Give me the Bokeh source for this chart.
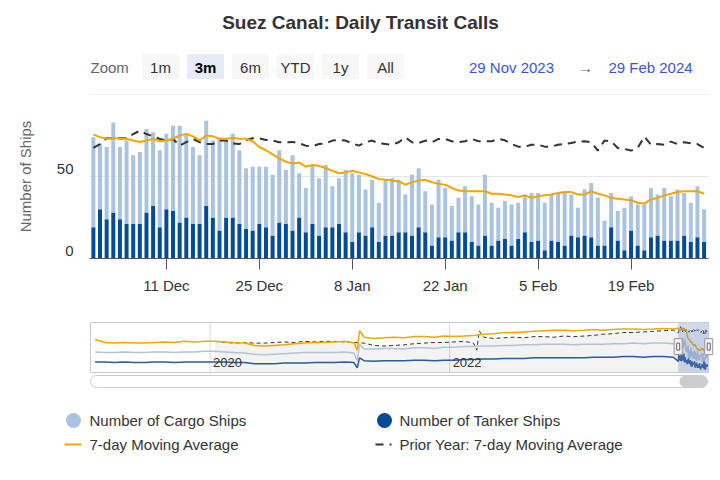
import math
import pandas as pd
from bokeh.plotting import figure
from bokeh.layouts import column
from bokeh.models import Range1d, FixedTicker, Label, ColumnDataSource
from bokeh.embed import file_html
from bokeh.resources import INLINE
from bokeh.core.properties import value

FONT = "Liberation Sans"
CARGO_C = "#a9c3e1"
TANKER_C = "#034b96"
MA_C = "#f0a800"
PRIOR_C = "#333333"

# ---------------- texts ----------------
title_text = "Suez Canal: Daily Transit Calls"
zoom_label = "Zoom"
zoom_buttons = ["1m", "3m", "6m", "YTD", "1y", "All"]
selected_button = "3m"
range_from = "29 Nov 2023"
range_to = "29 Feb 2024"
y_axis_title = "Number of Ships"
legend_labels = ["Number of Cargo Ships", "Number of Tanker Ships",
                 "7-day Moving Average", "Prior Year: 7-day Moving Average"]

# ---------------- main window data (daily) ----------------
dates = pd.date_range("2023-11-30", periods=93, freq="D")
cargo = [55, 40, 44, 55, 44, 51, 42, 44, 51, 45,
         47, 46, 52, 59, 51, 47, 42, 52, 47, 56,
         47, 51, 45, 37, 39, 35, 37, 37, 44, 33,
         46, 27, 27, 36, 35, 38, 25, 28, 38, 42,
         35, 28, 29, 24, 34, 35, 32, 23, 37, 36,
         25, 25, 35, 30, 21, 21, 28, 28, 25, 37,
         26, 20, 23, 25, 22, 23, 30, 29, 29, 28,
         30, 32, 25, 18, 28, 33, 29, 15, 21, 18,
         26, 21, 25, 28, 30, 25, 32, 27, 31, 26,
         24, 31, 20]
tanker = [19, 30, 24, 28, 24, 21, 21, 21, 28, 32,
          19, 30, 29, 22, 25, 21, 21, 32, 25, 17,
          25, 25, 21, 18, 17, 21, 19, 14, 22, 21,
          17, 25, 16, 21, 14, 19, 19, 21, 16, 10,
          16, 14, 19, 10, 14, 14, 16, 16, 14, 19,
          16, 8, 13, 13, 11, 16, 16, 10, 8, 14,
          8, 11, 12, 8, 12, 16, 10, 11, 5, 11,
          10, 8, 14, 13, 14, 13, 8, 8, 19, 11,
          5, 17, 8, 5, 13, 14, 11, 11, 11, 14,
          10, 13, 10]
ma7 = [75.5, 74, 73, 73.5, 73, 73, 72, 71, 72, 73,
       71.5, 72, 73, 75, 76, 74.5, 72, 75, 74.5, 73,
       73, 73.5, 73, 73, 71.5, 68, 66, 63.5, 61, 59,
       58, 58.5, 56, 57, 56.5, 55, 53.5, 52, 52.5, 53.5,
       52.5, 51.5, 50, 48.5, 48, 47.5, 47, 45, 46.5, 47.5,
       48, 46.5, 45.5, 45, 43, 41.5, 41, 41, 41, 41,
       39.5, 39.5, 39, 38.5, 37.5, 38.5, 37, 38, 38.5, 39,
       40, 40.5, 40.5, 39, 39, 41, 39.5, 38.5, 37, 36.5,
       36, 35.5, 34, 33.5, 36, 37, 38.5, 39.5, 40.5, 41,
       41, 41, 39.5]
prior = [67.4, 69.8, 73.3, 73.3, 73.3, 73.3, 75.9, 77.9, 75.9, 74.5,
         72.9, 71.9, 72.9, 68.8, 70.9, 72.9, 70.9, 69.8, 69.8, 71.9,
         71.9, 70.2, 69.8, 72.3, 73.3, 73.3, 72.3, 71.9, 70.9, 70.9,
         71.1, 70.2, 68.8, 68.4, 69.8, 70.2, 71.9, 72.3, 71.9, 70.2,
         68.8, 70.9, 71.9, 70.2, 69.8, 69.4, 70.9, 73.9, 70.9, 70.4,
         71.9, 70.9, 72.9, 72.9, 71.5, 70.9, 71.5, 72.9, 71.5, 71.5,
         71.5, 72.9, 72.1, 69.8, 68.2, 68.2, 69.4, 69.4, 68.2, 68.2,
         69.4, 69.8, 70.4, 71.3, 71.5, 70.9, 65.8, 71.9, 71.5, 67.4,
         66.8, 65.8, 67.4, 74.3, 69.4, 69.8, 69.4, 71.3, 69.8, 70.9,
         70.2, 69.8, 67.4]

x_tick_dates = ["2023-12-11", "2023-12-25", "2024-01-08", "2024-01-22", "2024-02-05", "2024-02-19"]
x_tick_labels = ["11 Dec", "25 Dec", "8 Jan", "22 Jan", "5 Feb", "19 Feb"]
y_grid_ticks = [0, 50, 100]
y_label_ticks = [0, 50]

# ---------------- navigator history (monthly) ----------------
hist_months = pd.date_range("2019-01-01", periods=59, freq="MS") + pd.Timedelta(days=14)
hist_total = [56, 51, 50, 51, 50, 50, 51, 52, 51, 53, 52, 53,
              53, 52, 51, 50, 46, 45, 46, 47, 49, 50, 51, 51,
              52, 53, 50, 60, 58, 59, 60, 59, 61, 61, 60, 62,
              61, 62, 63, 65, 66, 68, 68, 69, 70, 71, 72, 72,
              71, 72, 73, 72, 73, 74, 74, 73, 74, 75, 74]
hist_cargo = [35, 34, 34, 35, 34, 34, 35, 35, 34, 35, 35, 36,
              36, 35, 34, 33, 31, 30, 31, 32, 33, 34, 34, 34,
              34, 35, 33, 40, 40, 41, 41, 40, 42, 42, 41, 43,
              43, 44, 44, 45, 45, 46, 46, 47, 47, 48, 48, 48,
              47, 48, 48, 48, 49, 49, 50, 49, 50, 50, 49]
hist_tanker = [18, 18, 17, 18, 17, 17, 18, 18, 17, 18, 18, 18,
               18, 18, 17, 17, 15, 15, 15, 16, 16, 16, 17, 17,
               17, 18, 17, 20, 19, 20, 20, 20, 21, 21, 20, 21,
               21, 22, 22, 23, 23, 24, 24, 24, 25, 25, 25, 25,
               25, 25, 26, 26, 26, 27, 27, 26, 27, 27, 26]
hist_prior = [53, 51, 50, 51, 50, 50, 51, 52, 51, 53, 52, 53,
              53, 52, 51, 50, 46, 45, 46, 47, 49, 50, 51, 51,
              52, 53, 50, 60, 58, 59, 60, 59, 61, 61, 60, 62,
              61, 62, 63, 65, 66, 68, 68, 69, 70, 71, 72]
block_dates = ["2021-03-25", "2021-04-01"]
block_total = [38, 71]
block_cargo = [20, 48]
block_tanker = [8, 25]
prior_block_dates = ["2022-03-25", "2022-04-01"]
prior_block = [38, 71]
nav_year_ticks = ["2020-01-01", "2022-01-01"]
nav_year_labels = ["2020", "2022"]


def ms(d):
    return int(pd.Timestamp(d).value // 10**6)


W = 720
PL, PR = 89, 708          # plot area left / right edge in page pixels


def padded_range(start, end, left_px, right_px, total_px):
    a, b = ms(start), ms(end)
    per_px = (b - a) / (right_px - left_px)
    return Range1d(a - left_px * per_px, b + (total_px - right_px) * per_px)


def plain(height, yr):
    f = figure(width=W, height=height, x_range=Range1d(0, W), y_range=yr,
               toolbar_location=None, output_backend="svg",
               x_axis_location=None, y_axis_location=None, min_border=0)
    f.outline_line_color = None
    f.grid.visible = False
    return f


# ---------------- header ----------------
hdr = plain(90, Range1d(90, 0))
hdr.text(x=[360], y=[22], text=[title_text], text_font=value(FONT), text_font_style="bold",
         text_font_size="19px", text_align="center", text_baseline="middle", text_color="#333333")
hdr.text(x=[90], y=[67], text=[zoom_label], text_font=value(FONT), text_font_size="15px",
         text_align="left", text_baseline="middle", text_color="#666666")
btn_x = [160 + 45 * i for i in range(len(zoom_buttons))]
btn_fill = ["#e6ebf5" if b == selected_button else "#f7f7f7" for b in zoom_buttons]
hdr.rect(x=btn_x, y=[66] * len(btn_x), width=37, height=25, fill_color=btn_fill, line_color=None)
for bx, b in zip(btn_x, zoom_buttons):
    hdr.text(x=[bx], y=[67], text=[b], text_font=value(FONT), text_font_size="15px",
             text_font_style="bold" if b == selected_button else "normal",
             text_align="center", text_baseline="middle",
             text_color="#000000" if b == selected_button else "#333333")
hdr.text(x=[511], y=[67], text=[range_from], text_font=value(FONT), text_font_size="15px",
         text_align="center", text_baseline="middle", text_color="#3b55cf")
hdr.text(x=[585], y=[67], text=["\u2192"], text_font=value(FONT), text_font_size="15px",
         text_align="center", text_baseline="middle", text_color="#666666")
hdr.text(x=[650], y=[67], text=[range_to], text_font=value(FONT), text_font_size="15px",
         text_align="center", text_baseline="middle", text_color="#3b55cf")

# ---------------- main chart ----------------
xstart = pd.Timestamp("2023-11-29 10:00")
xend = pd.Timestamp("2024-03-01 16:00")
p = figure(width=W, height=210, x_axis_type="datetime", y_axis_location=None,
           x_range=padded_range(xstart, xend, PL, PR, W), y_range=Range1d(0, 100),
           toolbar_location=None, output_backend="svg", min_border=0,
           min_border_top=4, min_border_bottom=42)
p.outline_line_color = None
p.grid.visible = False

p.segment(x0=[ms(xstart)] * len(y_grid_ticks), x1=[ms(xend)] * len(y_grid_ticks),
          y0=y_grid_ticks, y1=y_grid_ticks, line_color="#e6e6e6", line_width=1)

src = ColumnDataSource(dict(date=dates, cargo=cargo, tanker=tanker, ma7=ma7, prior=prior))
bar_w = 0.6 * 86400000
p.vbar_stack(["tanker", "cargo"], x="date", width=bar_w, source=src,
             fill_color=[TANKER_C, CARGO_C], line_color=None)
p.line("date", "prior", source=src, line_color=PRIOR_C, line_width=2, line_dash="8 6")
p.line("date", "ma7", source=src, line_color=MA_C, line_width=2)

ax = p.xaxis[0]
ax.bounds = (ms(xstart), ms(xend))
ax.ticker = FixedTicker(ticks=[ms(d) for d in x_tick_dates])
ax.major_label_overrides = {ms(d): lab for d, lab in zip(x_tick_dates, x_tick_labels)}
ax.axis_line_color = "#555555"
ax.major_tick_line_color = "#555555"
ax.major_tick_out = 11
ax.major_tick_in = 0
ax.minor_tick_line_color = None
ax.major_label_text_font = FONT
ax.major_label_text_font_size = "15px"
ax.major_label_text_color = "#333333"
ax.major_label_standoff = 7

for v in y_label_ticks:
    p.add_layout(Label(x=ms(xstart), y=v, x_offset=-16, y_offset=3, text=str(v), text_align="right",
                       text_baseline="bottom", text_font=FONT, text_font_size="15px",
                       text_color="#333333"))
p.add_layout(Label(x=ms(xstart), y=50, x_offset=-64, text=y_axis_title, angle=math.pi / 2,
                   text_align="center", text_baseline="middle", text_font=FONT,
                   text_font_size="15px", text_color="#666666"))

# ---------------- navigator ----------------
nav_tot = pd.concat([
    pd.DataFrame(dict(date=hist_months, v=hist_total)),
    pd.DataFrame(dict(date=pd.to_datetime(block_dates), v=block_total)),
    pd.DataFrame(dict(date=dates, v=ma7))]).sort_values("date")
nav_cargo = pd.concat([
    pd.DataFrame(dict(date=hist_months, v=hist_cargo)),
    pd.DataFrame(dict(date=pd.to_datetime(block_dates), v=block_cargo)),
    pd.DataFrame(dict(date=dates, v=cargo))]).sort_values("date")
nav_tank = pd.concat([
    pd.DataFrame(dict(date=hist_months, v=hist_tanker)),
    pd.DataFrame(dict(date=pd.to_datetime(block_dates), v=block_tanker)),
    pd.DataFrame(dict(date=dates, v=tanker))]).sort_values("date")
nav_prior = pd.concat([
    pd.DataFrame(dict(date=hist_months[12:], v=hist_prior)),
    pd.DataFrame(dict(date=pd.to_datetime(prior_block_dates), v=prior_block)),
    pd.DataFrame(dict(date=dates, v=prior))]).sort_values("date")

nav_start, nav_end = pd.Timestamp("2019-01-01"), pd.Timestamp("2024-03-01")
NTOP = 85
n = figure(width=W, height=74, x_range=padded_range(nav_start, nav_end, PL + 1, PR, W),
           y_range=Range1d(-2 * NTOP / 50, NTOP + 2 * NTOP / 50),
           x_axis_location=None, y_axis_location=None,
           toolbar_location=None, output_backend="svg", min_border=0, min_border_top=20)
n.outline_line_color = None
n.grid.visible = False
n.segment(x0=[ms(d) for d in nav_year_ticks], x1=[ms(d) for d in nav_year_ticks],
          y0=0, y1=NTOP, line_color="#d9d9d9", line_width=1)
n.varea(x="date", y1=0, y2="v", source=ColumnDataSource(nav_prior), fill_color=PRIOR_C, fill_alpha=0.06)
n.line("date", "v", source=ColumnDataSource(nav_prior), line_color=PRIOR_C, line_width=1, line_dash="4 3")
n.line("date", "v", source=ColumnDataSource(nav_cargo), line_color="#b4c3d4", line_width=1.5)
n.line("date", "v", source=ColumnDataSource(nav_tank), line_color="#2d5b94", line_width=1.5)
n.line("date", "v", source=ColumnDataSource(nav_tot), line_color=MA_C, line_width=1.5)
for d, lab in zip(nav_year_ticks, nav_year_labels):
    n.add_layout(Label(x=ms(d), y=0, x_offset=3, y_offset=6, text=lab, text_align="left",
                       text_baseline="bottom", text_font=FONT, text_font_size="13px",
                       text_color="#333333"))
n.quad(left=[ms(xstart)], right=[ms(xend)], bottom=[0], top=[NTOP],
       fill_color="#6685c2", fill_alpha=0.3, line_color=None)
n.quad(left=[ms(nav_start)], right=[ms(nav_end)], bottom=[0], top=[NTOP],
       fill_color=None, line_color="#cccccc", line_width=1)
n.rect(x=[ms(xstart), ms(xend)], y=[44, 44], width=8, height=16, width_units="screen",
       height_units="screen", fill_color="#f2f2f2", line_color="#999999")
n.rect(x=[ms(xstart), ms(xend)], y=[44, 44], width=3, height=7, width_units="screen",
       height_units="screen", fill_color="#f2f2f2", line_color="#666666")

# ---------------- scrollbar ----------------
s = plain(22, Range1d(396, 374))
s.quad(left=[90], right=[707], top=[375], bottom=[387], fill_color="#ffffff",
       line_color="#cccccc", border_radius=6)
s.quad(left=[679], right=[707], top=[375], bottom=[387], fill_color="#cccccc",
       line_color=None, border_radius=6)

# ---------------- legend ----------------
lg = plain(80, Range1d(476, 396))
lg.scatter(x=[73, 384], y=[420, 420], marker="circle", size=15,
           fill_color=[CARGO_C, TANKER_C], line_color=None)
lg.line(x=[64, 81], y=[444, 444], line_color=MA_C, line_width=2)
lg.line(x=[375, 391], y=[444, 444], line_color=PRIOR_C, line_width=2, line_dash="8 6")
for (tx, ty), lab in zip([(89, 420), (399, 420), (89, 444), (399, 444)], legend_labels):
    lg.text(x=[tx], y=[ty], text=[lab], text_font=value(FONT), text_font_size="15px",
            text_align="left", text_baseline="middle", text_color="#333333")

layout = column(hdr, p, n, s, lg, spacing=0)
open("out.html", "w").write(file_html(layout, INLINE))
